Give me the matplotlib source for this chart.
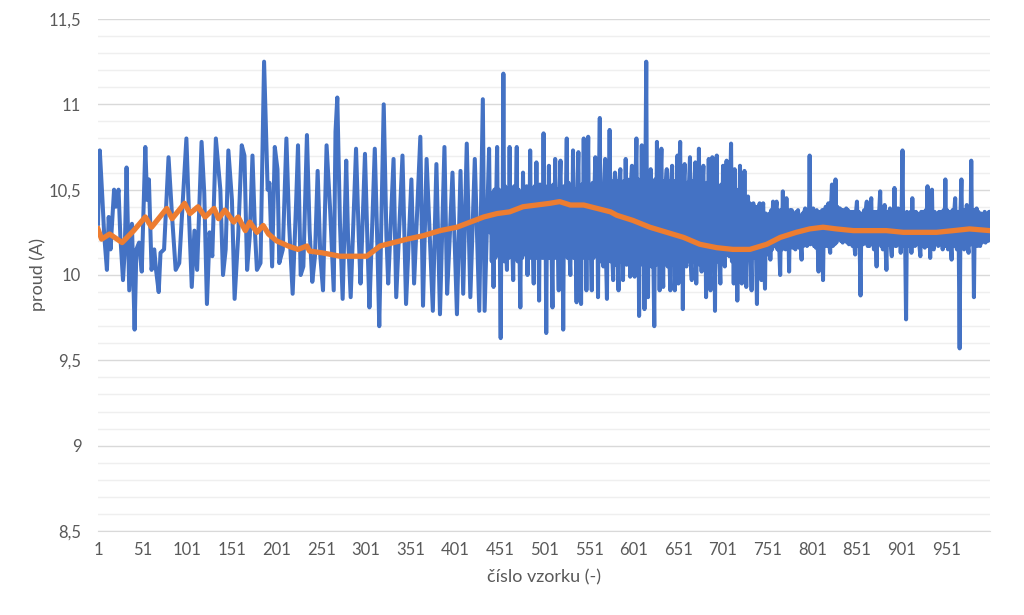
import matplotlib.pyplot as plt
from matplotlib.ticker import MultipleLocator, FuncFormatter

blue_x_a = [
    1, 3, 6, 8, 11, 13, 15, 19, 21, 24, 26, 29, 31, 33, 36, 39, 42, 44, 47, 50,
    54, 56, 58, 61, 64, 66, 69, 71, 75, 80, 84, 88, 92, 100, 103, 106, 109, 112,
    117, 120, 123, 126, 129, 133, 138, 141, 144, 147, 151, 154, 158, 162, 165,
    168, 171, 174, 177, 179, 183, 187, 191, 193, 196, 199, 202, 204, 208, 212,
    215, 219, 223, 225, 228, 231, 235, 238, 241, 244, 247, 250, 253, 257, 261,
    265, 267, 269, 272, 275, 279, 281, 284, 290, 293, 295, 300, 303, 305, 311,
    314, 316, 321, 324, 326, 332, 335, 342, 346, 352, 355, 362, 365, 369, 376,
    380, 384, 389, 392, 395, 398, 403, 407, 410, 414, 418, 423, 428, 432, 434,
    439,
]
blue_y_a = [
    10.30, 10.73, 10.44, 10.23, 10.03, 10.34, 10.15, 10.50, 10.40, 10.50, 10.23,
    9.97, 10.15, 10.63, 9.91, 10.30, 9.68, 10.15, 10.19, 10.02, 10.75, 10.44,
    10.56, 10.03, 10.15, 10.03, 9.90, 10.13, 10.15, 10.69, 10.34, 10.03, 10.07,
    10.80, 10.34, 9.93, 10.26, 10.03, 10.78, 10.48, 9.83, 10.25, 10.11, 10.80,
    10.50, 10.00, 10.15, 10.73, 10.44, 9.86, 10.23, 10.76, 10.70, 10.03, 10.23,
    10.70, 10.23, 10.03, 10.07, 11.25, 10.50, 10.54, 10.05, 10.75, 10.62, 10.07,
    10.15, 10.80, 10.30, 9.89, 10.44, 10.76, 10.00, 10.05, 10.82, 10.26, 9.96,
    10.11, 10.61, 10.11, 9.91, 10.76, 10.38, 9.91, 10.84, 11.04, 10.30, 9.86,
    10.67, 10.23, 9.87, 10.74, 10.23, 9.95, 10.71, 10.15, 9.81, 10.74, 10.15,
    9.70, 11.00, 10.23, 9.95, 10.68, 9.87, 10.70, 9.83, 10.56, 9.95, 10.81,
    9.82, 10.68, 9.79, 10.65, 9.77, 10.75, 9.89, 10.23, 10.60, 9.77, 10.61,
    9.89, 10.77, 9.87, 10.68, 9.79, 11.03, 9.79, 10.74,
]

# measured current (A), every sample from 440 to 1000
blue_y_b = [
    10.25, 10.48, 10.08, 10.45, 9.93, 10.50, 10.10, 10.46, 10.75, 10.12,
    10.50, 10.15, 9.63, 10.48, 10.12, 11.18, 10.08, 10.52, 10.15, 10.03,
    10.48, 10.10, 10.75, 10.12, 10.50, 10.15, 9.97, 10.52, 10.10, 10.46,
    10.75, 10.08, 10.50, 10.14, 9.81, 10.48, 10.10, 10.60, 10.12, 10.50,
    10.15, 10.52, 10.00, 10.48, 10.12, 10.73, 10.10, 10.50, 10.16, 9.95,
    10.52, 10.12, 10.66, 10.10, 10.48, 9.85, 10.53, 10.12, 10.50, 10.10,
    10.83, 10.12, 10.52, 9.66, 10.50, 10.15, 10.64, 10.10, 10.52, 10.14,
    9.81, 10.53, 10.12, 10.68, 10.10, 10.50, 10.16, 9.91, 10.52, 10.67,
    10.10, 10.50, 9.68, 10.52, 10.12, 10.48, 10.80, 10.10, 10.54, 10.14,
    10.00, 10.52, 10.12, 10.73, 10.10, 10.50, 10.15, 9.84, 10.52, 10.72,
    10.10, 10.50, 9.83, 10.53, 10.12, 10.80, 10.10, 10.52, 9.91, 10.50,
    10.81, 10.10, 10.52, 10.14, 9.91, 10.54, 10.10, 10.50, 10.69, 10.12,
    10.52, 9.87, 10.55, 10.92, 10.08, 10.53, 10.12, 10.05, 10.55, 10.68,
    10.10, 9.86, 10.55, 10.12, 10.85, 10.08, 10.55, 10.10, 9.97, 10.52,
    10.60, 10.06, 10.55, 10.10, 9.91, 10.56, 10.62, 10.08, 10.54, 9.97,
    10.55, 10.10, 10.68, 10.06, 10.56, 10.08, 10.54, 9.99, 10.55, 10.64,
    10.08, 10.56, 9.99, 10.55, 10.80, 10.06, 10.56, 9.76, 10.55, 10.10,
    10.76, 10.06, 10.55, 9.80, 10.56, 11.25, 10.05, 9.87, 10.56, 10.08,
    10.62, 10.05, 10.55, 10.08, 9.70, 10.56, 10.06, 10.78, 10.08, 10.55,
    9.91, 10.56, 10.74, 10.06, 9.93, 10.55, 10.08, 10.54, 10.62, 10.05,
    10.55, 10.08, 9.91, 10.56, 10.64, 10.06, 10.55, 9.91, 10.54, 10.08,
    10.70, 9.95, 10.55, 10.78, 10.06, 10.54, 9.80, 10.55, 10.65, 10.08,
    10.05, 10.54, 10.08, 10.55, 10.69, 10.06, 9.97, 10.55, 10.08, 10.54,
    10.66, 9.95, 10.54, 10.08, 10.74, 10.06, 10.53, 10.02, 10.52, 10.64,
    10.06, 10.53, 9.87, 10.54, 10.08, 10.68, 10.06, 9.91, 10.55, 10.69,
    10.06, 10.52, 9.79, 10.54, 10.70, 10.08, 10.52, 10.10, 9.95, 10.53,
    10.08, 10.64, 10.10, 10.05, 10.52, 10.67, 10.12, 10.50, 10.11, 10.50,
    10.77, 10.08, 10.50, 9.95, 10.62, 10.10, 10.50, 9.85, 10.48, 10.10,
    10.64, 10.10, 9.95, 10.50, 10.10, 10.61, 10.12, 9.93, 10.15, 10.46,
    10.10, 10.42, 10.12, 9.91, 10.40, 10.42, 10.10, 10.40, 10.12, 9.83,
    10.40, 10.10, 10.42, 10.12, 9.97, 10.38, 10.42, 10.12, 9.92, 10.36,
    10.12, 10.30, 10.14, 10.36, 10.09, 10.38, 10.15, 10.43, 10.36, 10.17,
    10.38, 10.43, 10.15, 10.38, 10.16, 10.00, 10.38, 10.15, 10.49, 10.16,
    10.38, 10.15, 10.45, 10.16, 10.36, 10.02, 10.38, 10.17, 10.38, 10.16,
    10.36, 10.18, 10.15, 10.37, 10.17, 10.38, 10.16, 10.33, 10.18, 10.09,
    10.36, 10.17, 10.37, 10.39, 10.18, 10.17, 10.38, 10.18, 10.70, 10.18,
    10.21, 10.38, 10.39, 10.17, 10.37, 10.16, 10.38, 10.18, 10.02, 10.37,
    10.31, 10.17, 10.38, 9.97, 10.38, 10.18, 10.40, 10.17, 10.39, 10.42,
    10.18, 10.13, 10.40, 10.53, 10.17, 10.40, 10.18, 10.56, 10.19, 10.40,
    10.23, 10.38, 10.39, 10.20, 10.38, 10.19, 10.38, 10.23, 10.37, 10.39,
    10.19, 10.38, 10.18, 10.19, 10.37, 10.31, 10.17, 10.37, 10.18, 10.12,
    10.37, 10.43, 10.17, 10.37, 10.18, 9.88, 10.36, 10.32, 10.18, 10.38,
    10.19, 10.38, 10.43, 10.17, 10.37, 10.17, 10.38, 10.45, 10.18, 10.36,
    10.15, 10.37, 10.23, 10.05, 10.37, 10.18, 10.38, 10.49, 10.17, 10.37,
    10.15, 10.37, 10.41, 10.17, 10.03, 10.37, 10.18, 10.36, 10.39, 10.17,
    10.11, 10.37, 10.18, 10.51, 10.17, 10.17, 10.37, 10.39, 10.18, 10.36,
    10.13, 10.37, 10.73, 10.17, 10.36, 10.18, 9.74, 10.37, 10.18, 10.36,
    10.17, 10.37, 10.13, 10.45, 10.18, 10.36, 10.17, 10.37, 10.18, 10.36,
    10.35, 10.17, 10.11, 10.37, 10.18, 10.37, 10.17, 10.16, 10.38, 10.17,
    10.52, 10.17, 10.37, 10.10, 10.38, 10.50, 10.17, 10.15, 10.37, 10.18,
    10.33, 10.36, 10.17, 10.37, 10.31, 10.18, 10.37, 10.15, 10.38, 10.17,
    10.56, 10.17, 10.38, 10.15, 10.37, 10.33, 10.18, 10.09, 10.38, 10.17,
    10.37, 10.45, 10.18, 10.15, 10.37, 10.17, 9.57, 10.38, 10.56, 10.18,
    10.37, 10.15, 10.38, 10.18, 10.41, 10.17, 10.13, 10.38, 10.18, 10.67,
    10.18, 10.37, 9.87, 10.38, 10.18, 10.39, 10.17, 10.37, 10.18, 10.17,
    10.36, 10.19, 10.35, 10.20, 10.37, 10.19, 10.21, 10.36, 10.20, 10.37,
    10.37,
]

# smoothed current (orange)
orange_x = [
    1, 5, 14, 28, 41, 54, 61, 78, 84, 98, 104, 113, 121, 131, 136, 143, 153,
    158, 166, 171, 179, 186, 192, 201, 214, 225, 235, 238, 252, 272, 302, 317,
    347, 365, 384, 403, 418, 433, 448, 462, 477, 492, 507, 518, 530, 545, 560,
    575, 582, 600, 619, 638, 657, 675, 694, 712, 731, 750, 765, 783, 798, 813,
    828, 847, 866, 884, 903, 922, 940, 959, 977, 1000,
]
orange_y = [
    10.27, 10.21, 10.24, 10.19, 10.26, 10.34, 10.28, 10.39, 10.33, 10.42, 10.36,
    10.40, 10.34, 10.39, 10.33, 10.38, 10.31, 10.34, 10.26, 10.31, 10.25, 10.29,
    10.24, 10.20, 10.17, 10.15, 10.17, 10.14, 10.13, 10.11, 10.11, 10.17, 10.21,
    10.23, 10.26, 10.28, 10.31, 10.34, 10.36, 10.37, 10.40, 10.41, 10.42, 10.43,
    10.41, 10.41, 10.39, 10.37, 10.35, 10.32, 10.28, 10.25, 10.22, 10.18, 10.16,
    10.15, 10.15, 10.18, 10.22, 10.25, 10.27, 10.28, 10.27, 10.26, 10.26, 10.26,
    10.25, 10.25, 10.25, 10.26, 10.27, 10.26,
]

x_ticks = list(range(1, 1000, 50))

blue_x = blue_x_a + list(range(440, 440 + len(blue_y_b)))
blue_y = blue_y_a + blue_y_b

plt.rcParams['font.family'] = ['Lato', 'DejaVu Sans']
grey = '#595959'

fig = plt.figure(figsize=(10.24, 6.15), dpi=100)
ax = fig.add_axes([0.0957, 0.1366, 0.8711, 0.8325])

ax.plot(blue_x, blue_y, color='#4472C4', lw=2.9, solid_joinstyle='round')
ax.plot(orange_x, orange_y, color='#ED7D31', lw=3.8, solid_joinstyle='round')

ax.set_xlim(1, 1000)
ax.set_ylim(8.5, 11.5)
ax.set_xticks(x_ticks)
ax.yaxis.set_major_locator(MultipleLocator(0.5))
ax.yaxis.set_minor_locator(MultipleLocator(0.1))
ax.yaxis.set_major_formatter(FuncFormatter(lambda v, p: f'{v:g}'.replace('.', ',')))

ax.grid(which='major', axis='y', color='#d9d9d9', lw=1)
ax.grid(which='minor', axis='y', color='#efefef', lw=1)
ax.set_axisbelow(True)
for side in ['top', 'right', 'left']:
    ax.spines[side].set_visible(False)
ax.spines['bottom'].set_color('#d9d9d9')
ax.tick_params(axis='both', which='both', length=0, labelsize=12, colors=grey)
ax.tick_params(axis='y', pad=12)
ax.tick_params(axis='x', pad=8)

ax.set_ylabel('proud (A)', fontsize=13, color=grey, labelpad=2)
ax.set_xlabel('číslo vzorku (-)', fontsize=13, color=grey, labelpad=8)

fig.savefig('out.png', dpi=100)
